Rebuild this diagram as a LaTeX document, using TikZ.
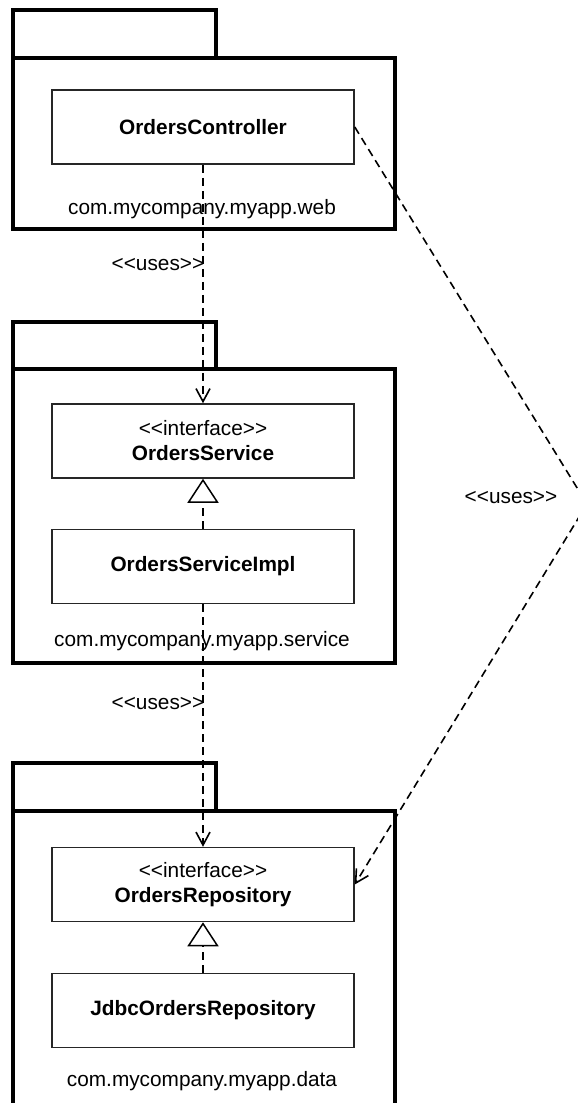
\documentclass[tikz,border=0pt]{standalone}
\usepackage{fontspec}
\setmainfont{Liberation Sans}[Ligatures=TeXOff]
\usetikzlibrary{arrows.meta, positioning}

\newcommand{\stereo}[1]{{\mdseries<<#1>>}}

\begin{document}
\begin{tikzpicture}[x=1pt, y=-1pt,
    every node/.style={font=\fontsize{20.8}{25}\selectfont},
    cls/.style={draw=black!85, line width=1.5pt, minimum width=302pt, minimum height=74pt,
        align=center, font=\fontsize{20.8}{25}\selectfont\bfseries},
    pkg/.style={line width=3.3pt},
    uses/.style={line width=1.6pt, dash pattern=on 8pt off 5pt,
        -{Straight Barb[length=13pt, width=14pt]}},
    real/.style={line width=1.5pt, dash pattern=on 8pt off 5pt,
        -{Triangle[open, length=24pt, width=31pt]}}]
    \useasboundingbox (0,0) rectangle (578,1103);

    % 1. Packages (tab + body)
    \draw[pkg] (13,10) rectangle (216,58);
    \draw[pkg] (13,58) rectangle (395,229);
    \draw[pkg] (13,322) rectangle (216,369);
    \draw[pkg] (13,369) rectangle (395,663);
    \draw[pkg] (13,763) rectangle (216,811);
    \draw[pkg] (13,1110) |- (395,811) -- (395,1110);

    \node (webpkg) at (202,209) {com.mycompany.myapp.web};
    \node (svcpkg) at (202,641) {com.mycompany.myapp.service};
    \node (datapkg) at (202,1081) {com.mycompany.myapp.data};

    % 2. Classes and interfaces
    \node[cls] (ctrl) at (203,127) {OrdersController};
    \node[cls] (svc) at (203,441) {\stereo{interface}\\OrdersService};
    \node[cls] (svcimpl) at (203,566.5) {OrdersServiceImpl};
    \node[cls] (repo) at (203,884.5) {\stereo{interface}\\OrdersRepository};
    \node[cls] (jdbcrepo) at (203,1010.5) {JdbcOrdersRepository};

    % 3. Dependencies
    \draw[uses] (ctrl) -- node[pos=0.42, anchor=east, inner sep=0pt, xshift=2pt] {\stereo{uses}} (svc);
    \draw[uses] (svcimpl) -- node[pos=0.41, anchor=east, inner sep=0pt, xshift=2pt] {\stereo{uses}} (repo);

    \coordinate (bend) at (587,504);
    \draw[uses] (ctrl.east) -- (bend) -- (repo.east);
    \node (useslbl) at (511,498) {\stereo{uses}};

    % 4. Realizations
    \draw[real] (svcimpl) -- (svc);
    \draw[real] (jdbcrepo) -- (repo);

\end{tikzpicture}
\end{document}
